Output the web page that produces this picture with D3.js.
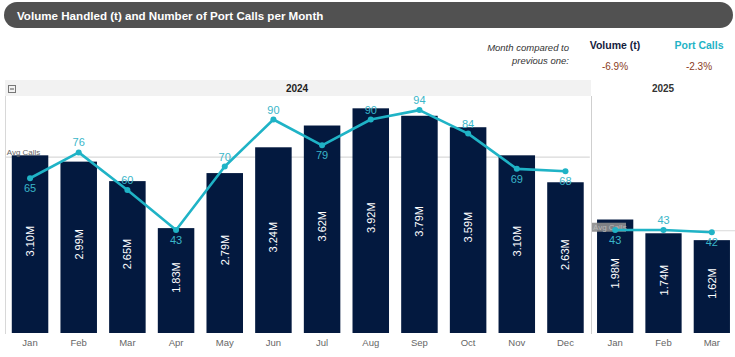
<!DOCTYPE html>
<html><head><meta charset="utf-8">
<script src="https://cdn.jsdelivr.net/npm/d3@7"></script>
<style>body{margin:0;background:#fff}svg{display:block;font-family:Arial,"Liberation Sans",sans-serif}</style>
</head><body><svg id="c" width="735" height="357"></svg>
<script>
const months2024 = ["Jan","Feb","Mar","Apr","May","Jun","Jul","Aug","Sep","Oct","Nov","Dec"];
const volume2024 = [3.10,2.99,2.65,1.83,2.79,3.24,3.62,3.92,3.79,3.59,3.10,2.63];
const calls2024 = [65,76,60,43,70,90,79,90,94,84,69,68];
const calls2024Pos = ["below","above","above","below","above","above","below","above","above","above","below","below"];
const months2025 = ["Jan","Feb","Mar"];
const volume2025 = [1.98,1.74,1.62];
const calls2025 = [43,43,42];
const calls2025Pos = ["below","above","below"];
const years = ["2024","2025"];
const title = "Volume Handled (t) and Number of Port Calls per Month";
const kpiLabels = ["Volume (t)","Port Calls"];
const kpiValues = ["-6.9%","-2.3%"];

const svg = d3.select("#c");
const navy = "#03193f", teal = "#1fb3c6", tealText = "#3ab6c9";

// title bar
svg.append("rect").attr("x",4).attr("y",2).attr("width",729).attr("height",26).attr("rx",13).attr("fill","#515151");
svg.append("text").attr("x",17).attr("y",19.5).attr("fill","#fff").attr("font-weight","bold").attr("font-size",11.6).text(title);

// KPI header
svg.append("text").attr("x",569).attr("y",51).attr("text-anchor","end").attr("font-style","italic").attr("font-size",9.5).attr("fill","#333").text("Month compared to");
svg.append("text").attr("x",569).attr("y",64).attr("text-anchor","end").attr("font-style","italic").attr("font-size",9.5).attr("fill","#333").text("previous one:");
const kx = [615, 699];
kpiLabels.forEach((t,i)=>{
  svg.append("text").attr("x",kx[i]).attr("y",49).attr("text-anchor","middle").attr("font-weight","bold").attr("font-size",10.5).attr("fill", i===0? "#14213d" : teal).text(t);
  svg.append("text").attr("x",kx[i]).attr("y",70).attr("text-anchor","middle").attr("font-size",10).attr("fill","#8a3b1c").text(kpiValues[i]);
});

// panel header
svg.append("rect").attr("x",5).attr("y",80).attr("width",586).attr("height",16).attr("fill","#f2f2f2");
svg.append("rect").attr("x",8.5).attr("y",85.5).attr("width",7).attr("height",7).attr("fill","none").attr("stroke","#777");
svg.append("line").attr("x1",10).attr("x2",14).attr("y1",89).attr("y2",89).attr("stroke","#555");
svg.append("text").attr("x",297).attr("y",92).attr("text-anchor","middle").attr("font-weight","bold").attr("font-size",10).attr("fill","#222").text(years[0]);
svg.append("text").attr("x",663).attr("y",92).attr("text-anchor","middle").attr("font-weight","bold").attr("font-size",10).attr("fill","#333").text(years[1]);
svg.append("line").attr("x1",5.5).attr("x2",5.5).attr("y1",96).attr("y2",334).attr("stroke","#d8d8d8");
svg.append("line").attr("x1",591.5).attr("x2",591.5).attr("y1",96).attr("y2",334).attr("stroke","#cfcfcf");

const yV = d3.scaleLinear().domain([0,4.1]).range([333,98]);
const yC = d3.scaleLinear().domain([0,100]).range([331,96]);

function panel(months, vols, calls, pos, range, boxedAvg){
  const x = d3.scaleBand().domain(months).range(range).paddingInner(0.25).paddingOuter(0.125);
  const g = svg.append("g");
  const avg = d3.mean(calls);
  g.append("line").attr("x1",range[0]).attr("x2",range[1]).attr("y1",yC(avg)).attr("y2",yC(avg)).attr("stroke","#d9d9d9").attr("stroke-width",1.2);
  g.selectAll("rect.b").data(vols).join("rect").attr("class","b")
    .attr("x",(d,i)=>x(months[i])).attr("width",x.bandwidth())
    .attr("y",d=>yV(d)).attr("height",d=>yV(0)-yV(d)).attr("fill",navy);
  g.selectAll("text.v").data(vols).join("text").attr("class","v")
    .attr("transform",(d,i)=>`translate(${x(months[i])+x.bandwidth()/2+4},${(yV(d)+yV(0))/2-3}) rotate(-90)`)
    .attr("text-anchor","middle").attr("fill","#fff").attr("font-size",11).text(d=>d.toFixed(2)+"M");
  if(boxedAvg){
    g.append("rect").attr("x",range[0]+1).attr("y",yC(avg)-8).attr("width",34).attr("height",9).attr("fill","#8d8d8d").attr("opacity",0.9);
    g.append("text").attr("x",range[0]+2).attr("y",yC(avg)-1).attr("font-size",8).attr("fill","#b8b8b8").text("Avg Calls");
  } else {
    g.append("text").attr("x",range[0]+1).attr("y",yC(avg)-2).attr("font-size",8).attr("fill","#666").text("Avg Calls");
  }
  const line = d3.line().x((d,i)=>x(months[i])+x.bandwidth()/2).y(d=>yC(d));
  g.append("path").datum(calls).attr("d",line).attr("fill","none").attr("stroke",teal).attr("stroke-width",2.6).attr("stroke-linejoin","round");
  g.selectAll("circle").data(calls).join("circle").attr("cx",(d,i)=>x(months[i])+x.bandwidth()/2).attr("cy",d=>yC(d)).attr("r",3).attr("fill",teal);
  g.selectAll("text.c").data(calls).join("text").attr("class","c")
    .attr("x",(d,i)=>x(months[i])+x.bandwidth()/2).attr("y",(d,i)=>yC(d)+(pos[i]==="above"? -6 : 14))
    .attr("text-anchor","middle").attr("font-size",11).attr("fill",tealText).text(d=>d);
  g.selectAll("text.m").data(months).join("text").attr("class","m")
    .attr("x",d=>x(d)+x.bandwidth()/2).attr("y",346).attr("text-anchor","middle").attr("font-size",9.5).attr("fill","#666").text(d=>d);
}
panel(months2024, volume2024, calls2024, calls2024Pos, [5.7,589.8], false);
panel(months2025, volume2025, calls2025, calls2025Pos, [591,736], true);
</script></body></html>
